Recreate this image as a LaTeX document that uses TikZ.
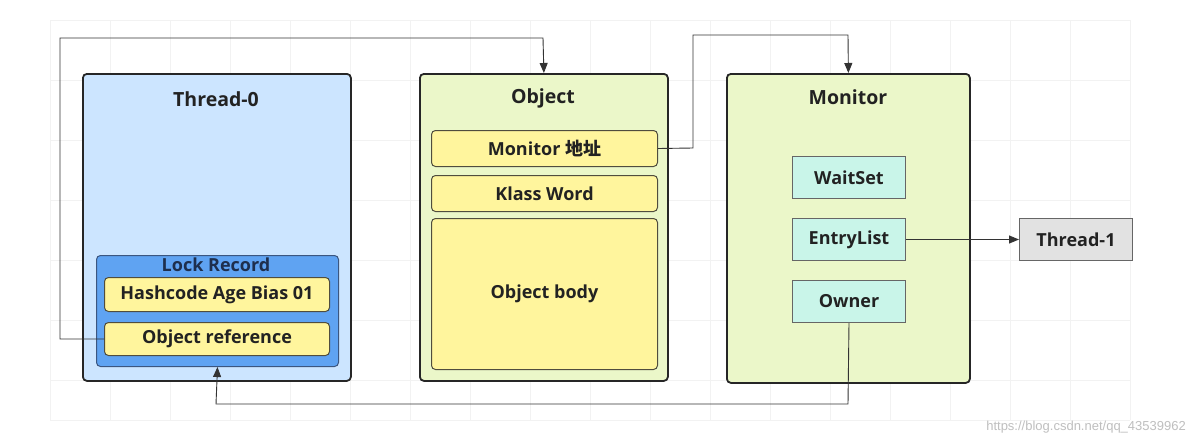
\documentclass[tikz,border=0pt]{standalone}
\usepackage{fontspec}
\setmainfont{Open Sans}
\newfontfamily\cjk{Noto Sans CJK SC}
\newfontfamily\wmfont{Liberation Sans}
\usetikzlibrary{arrows.meta}
\definecolor{bluebg}{HTML}{CCE5FF}
\definecolor{lockbg}{HTML}{5FA3F2}
\definecolor{lockbd}{HTML}{3B5680}
\definecolor{locktx}{HTML}{1E2F4D}
\definecolor{yel}{HTML}{FFF59D}
\definecolor{grn}{HTML}{EBF7C9}
\definecolor{cyanbg}{HTML}{C9F5E9}
\definecolor{graybg}{HTML}{E2E2E2}
\definecolor{txt}{HTML}{222222}
\tikzset{
  outerbox/.style={draw=black!85, line width=1.8pt, rounded corners=4pt, anchor=north west, inner sep=0pt},
  yelbox/.style={draw=black!65!yellow!60!black, line width=1pt, fill=yel, rounded corners=4pt, anchor=north west, inner sep=0pt, font=\bfseries\fontsize{18}{20}\selectfont, text=txt},
  cybox/.style={draw=black!60, line width=1pt, fill=cyanbg, anchor=north west, inner sep=0pt, font=\bfseries\fontsize{18}{20}\selectfont, text=txt},
  title/.style={font=\bfseries\fontsize{19.5}{22}\selectfont, text=txt, inner sep=0pt},
  conn/.style={draw=black!80, line width=0.9pt},
  arr/.style={conn, -{Triangle[length=10pt,width=8pt]}},
}
\begin{document}
\begin{tikzpicture}[x=1pt,y=-1pt]
\useasboundingbox[fill=white] (0,0) rectangle (1195,445);
% faint grid
\begin{scope}[draw=black!5, line width=0.6pt]
\foreach \gx in {50,110,170,230,290,350,410,470,530,590,650,710,770,830,890,950,1010,1070,1130}
  \draw (\gx,20) -- (\gx,420);
\foreach \gy in {20,80,140,200,260,320,380,420}
  \draw (50,\gy) -- (1130,\gy);
\end{scope}

% Thread-0
\node[outerbox, fill=bluebg, minimum width=268pt, minimum height=307pt] (t0) at (82,73) {};
\node[title] (t0title) at (216,99) {Thread-0};
\node[draw=lockbd, line width=1pt, fill=lockbg, rounded corners=4pt, anchor=north west, minimum width=242pt, minimum height=111pt] (lock) at (96,255) {};
\node[title, font=\bfseries\fontsize{18}{20}\selectfont, text=locktx] (locktitle) at (216,265) {Lock Record};
\node[yelbox, minimum width=225pt, minimum height=34pt] (hash) at (104,277) {Hashcode Age Bias 01};
\node[yelbox, minimum width=225pt, minimum height=33pt] (objref) at (104,322) {Object reference};

% Object
\node[outerbox, fill=grn, minimum width=248pt, minimum height=307pt] (obj) at (419,73) {};
\node[title] (objtitle) at (543,98) {Object};
\node[yelbox, minimum width=226pt, minimum height=36pt] (monaddr) at (431,130) {Monitor {\cjk\bfseries 地址}};
\node[yelbox, minimum width=226pt, minimum height=36pt] (klass) at (431,175) {Klass Word};
\node[yelbox, minimum width=226pt, minimum height=151pt] (body) at (431,218) {Object body};

% Monitor
\node[outerbox, fill=grn, minimum width=243pt, minimum height=309pt] (mon) at (726,73) {};
\node[title] (montitle) at (848,97) {Monitor};
\node[cybox, minimum width=113pt, minimum height=42pt] (wait) at (792,156) {WaitSet};
\node[cybox, minimum width=113pt, minimum height=42pt] (entry) at (792,218) {EntryList};
\node[cybox, minimum width=113pt, minimum height=42pt] (owner) at (792,280) {Owner};

% Thread-1
\node[draw=black!60, line width=1pt, fill=graybg, anchor=north west, inner sep=0pt, minimum width=113pt, minimum height=42pt, font=\bfseries\fontsize{18}{20}\selectfont, text=txt] (t1) at (1019,218) {Thread-1};

% connectors
\draw[arr] (objref.west) -- (60,339) -- (60,38) -- (543,38) -- (obj.north);
\draw[arr] (monaddr.east) -- (693,148) -- (693,35) -- (848,35) -- (mon.north);
\draw[arr] (entry.east) -- (t1.west);
\draw[arr] (owner.south) -- (848,404) -- (216,404) -- (lock.south);

% watermark
\node[font=\wmfont\fontsize{13}{15}\selectfont, text=black!25, anchor=east, inner sep=0pt] (wm) at (1186,427) {https://blog.csdn.net/qq\_43539962};
\end{tikzpicture}
\end{document}
